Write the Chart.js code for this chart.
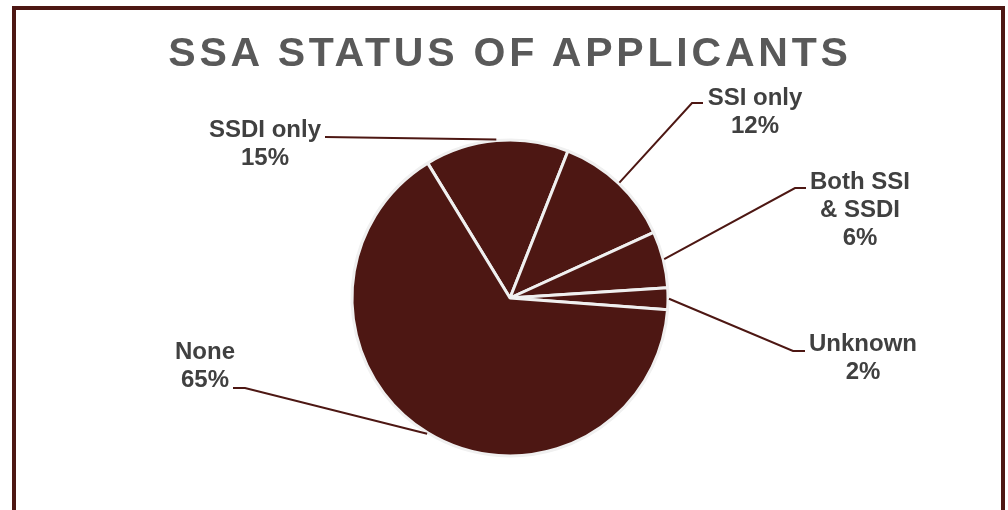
<!DOCTYPE html>
<html>
<head>
<meta charset="utf-8">
<script src="https://cdn.jsdelivr.net/npm/chart.js@4"></script>
<style>
  html, body { margin: 0; padding: 0; background: #fff; overflow: hidden; }
  #wrap { position: relative; width: 1008px; height: 510px; }
  #frame {
    position: absolute; left: 12px; top: 6px; width: 985px; height: 600px;
    border: 4px solid #4d1713; background: #fff;
  }
  #title {
    position: absolute; left: 0; top: 28px; width: 1020px; text-align: center;
    font: bold 41px "Liberation Sans", Arial, sans-serif; letter-spacing: 3.8px;
    color: #595959; line-height: 48px;
  }
  canvas { position: absolute; left: 0; top: 0; }
</style>
</head>
<body>
<div id="wrap">
  <div id="frame"></div>
  <canvas id="pie" width="1008" height="510"></canvas>
  <div id="title">SSA STATUS OF APPLICANTS</div>
</div>
<script>
// data, clockwise from the top-left slice
const categories = [['SSDI only'], ['SSI only'], ['Both SSI', '& SSDI'], ['Unknown'], ['None']];
const shares = [14.7, 12.2, 5.8, 2.2, 65.1];

// where each label sits, relative to the pie centre (elbow, tail end, text centre)
const labelSpots = [
  { elbow: [-185, -161], end: [-185, -161], text: [-245, -168] },
  { elbow: [182, -195], end: [193, -195], text: [245, -200] },
  { elbow: [285, -110], end: [296, -110], text: [350, -116] },
  { elbow: [283, 53], end: [295, 53], text: [353, 46] },
  { elbow: [-265, 90], end: [-277, 90], text: [-305, 54] }
];

const maroon = '#4d1713';

const leaderLabels = {
  id: 'leaderLabels',
  afterDatasetsDraw(chart) {
    const ctx = chart.ctx;
    const arcs = chart.getDatasetMeta(0).data;
    const total = shares.reduce((a, b) => a + b, 0);
    ctx.save();
    arcs.forEach((arc, i) => {
      const p = arc.getProps(['x', 'y', 'startAngle', 'endAngle', 'outerRadius'], true);
      const mid = (p.startAngle + p.endAngle) / 2;
      const r = p.outerRadius + 1;
      const spot = labelSpots[i];
      ctx.strokeStyle = maroon;
      ctx.lineWidth = 2;
      ctx.beginPath();
      ctx.moveTo(p.x + Math.cos(mid) * r, p.y + Math.sin(mid) * r);
      ctx.lineTo(p.x + spot.elbow[0], p.y + spot.elbow[1]);
      ctx.lineTo(p.x + spot.end[0], p.y + spot.end[1]);
      ctx.stroke();

      const lines = categories[i].concat([Math.round(shares[i] / total * 100) + '%']);
      ctx.fillStyle = '#404040';
      ctx.font = 'bold 24px "Liberation Sans", Arial, sans-serif';
      ctx.textAlign = 'center';
      ctx.textBaseline = 'middle';
      lines.forEach((t, k) => {
        ctx.fillText(t, p.x + spot.text[0], p.y + spot.text[1] + k * 28);
      });
    });
    ctx.restore();
  }
};

new Chart(document.getElementById('pie'), {
  type: 'pie',
  data: {
    labels: categories,
    datasets: [{
      data: shares,
      backgroundColor: maroon,
      borderColor: '#f0f0f0',
      borderWidth: 3,
      radius: 158
    }]
  },
  options: {
    responsive: false,
    animation: false,
    events: [],
    rotation: -31.4,
    layout: { padding: { top: 140, bottom: 54, left: 200, right: 188 } },
    plugins: {
      legend: { display: false },
      title: { display: false },
      tooltip: { enabled: false }
    }
  },
  plugins: [leaderLabels]
});
</script>
</body>
</html>
